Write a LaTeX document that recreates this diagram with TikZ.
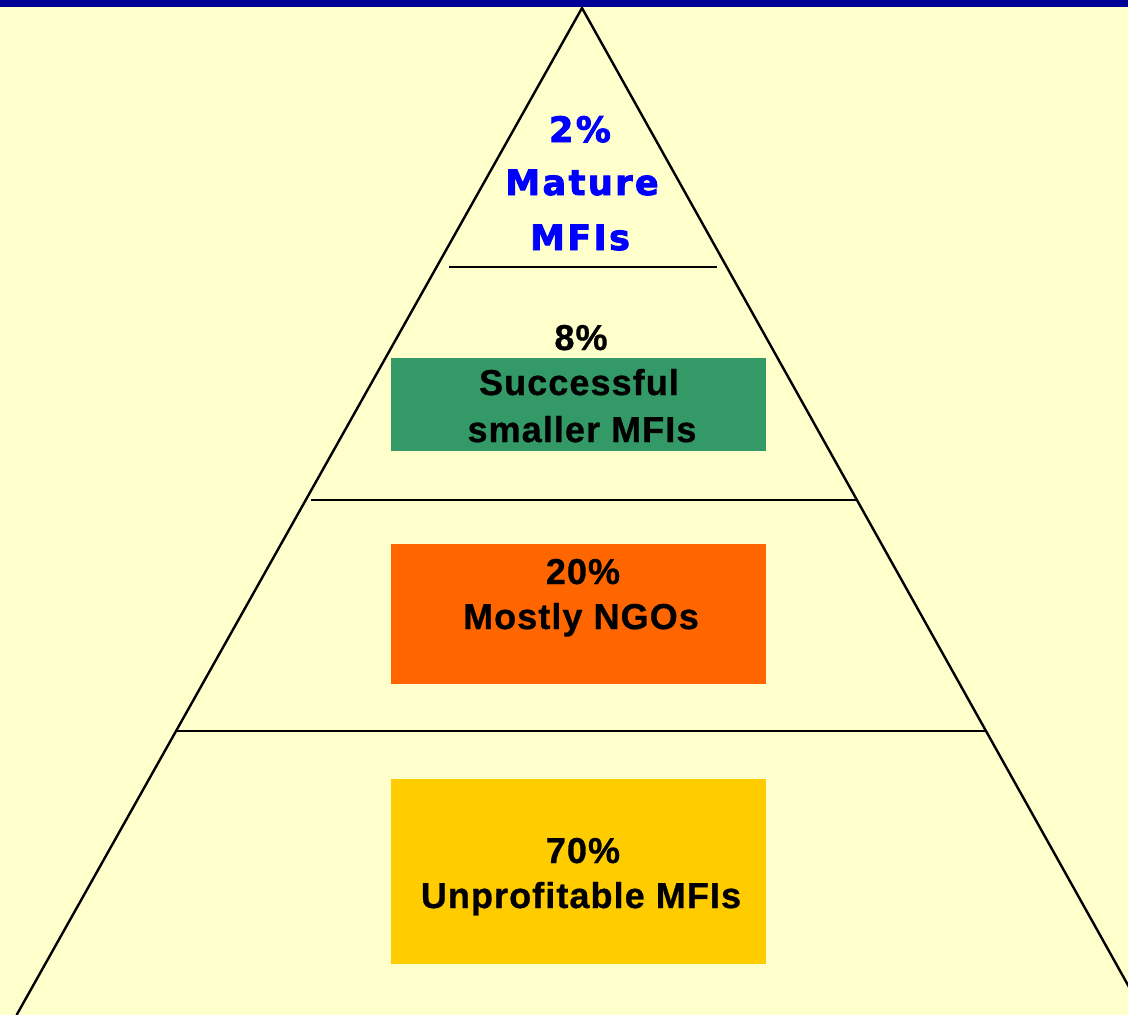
\documentclass[tikz,border=0pt]{standalone}
\usepackage{fontspec}
\setmainfont{Liberation Sans}
\newfontfamily\blueface[LetterSpace=7,FakeBold=2.5]{DejaVu Sans}
\newfontfamily\blackface[LetterSpace=3,FakeBold=0.8]{Liberation Sans}
\definecolor{bg}{HTML}{FFFFCC}
\definecolor{topbar}{HTML}{000099}
\definecolor{matureblue}{HTML}{0000FF}
\definecolor{boxgreen}{HTML}{339966}
\definecolor{boxorange}{HTML}{FF6600}
\definecolor{boxgold}{HTML}{FFCC00}
\tikzset{
  edge/.style={line width=2.4pt, black},
  bluetxt/.style={anchor=base, inner sep=0pt, text=matureblue, font=\blueface\bfseries\fontsize{35}{40}\selectfont},
  blacktxt/.style={anchor=base, inner sep=0pt, text=black, font=\blackface\bfseries\fontsize{36}{40}\selectfont}
}
\begin{document}
\begin{tikzpicture}[x=1pt,y=-1pt]
\useasboundingbox (0,0) rectangle (1128,1015);
\clip (0,0) rectangle (1128,1015);
\fill[bg] (0,0) rectangle (1128,1015);
\fill[topbar] (0,0) rectangle (1128,7);
% boxes
\fill[boxgreen] (391,358) rectangle (766,451);
\fill[boxorange] (391,544) rectangle (766,684);
\fill[boxgold] (391,779) rectangle (766,964);
% triangle
\coordinate (apex) at (582,8);
\coordinate (bl) at (16.6,1015);
\coordinate (br) at (1144.7,1015);
\draw[edge] (bl) -- (apex) -- (br);
\draw[edge] (449,267) -- (717,267);
\draw[edge] (311,500) -- (857,500);
\draw[edge] (176,731) -- (986,731);
% texts
\node[bluetxt] (t1a) at (580,142) {2\%};
\node[bluetxt] (t1b) at (582,195) {Mature};
\node[bluetxt] (t1c) at (580,250) {MFIs};
\node[blacktxt] (t2a) at (581,350) {8\%};
\node[blacktxt] (t2b) at (579,395) {Successful};
\node[blacktxt] (t2c) at (582,442) {smaller MFIs};
\node[blacktxt] (t3a) at (583,584) {20\%};
\node[blacktxt] (t3b) at (581,629) {Mostly NGOs};
\node[blacktxt] (t4a) at (583,863) {70\%};
\node[blacktxt] (t4b) at (581,908) {Unprofitable MFIs};
\end{tikzpicture}
\end{document}
